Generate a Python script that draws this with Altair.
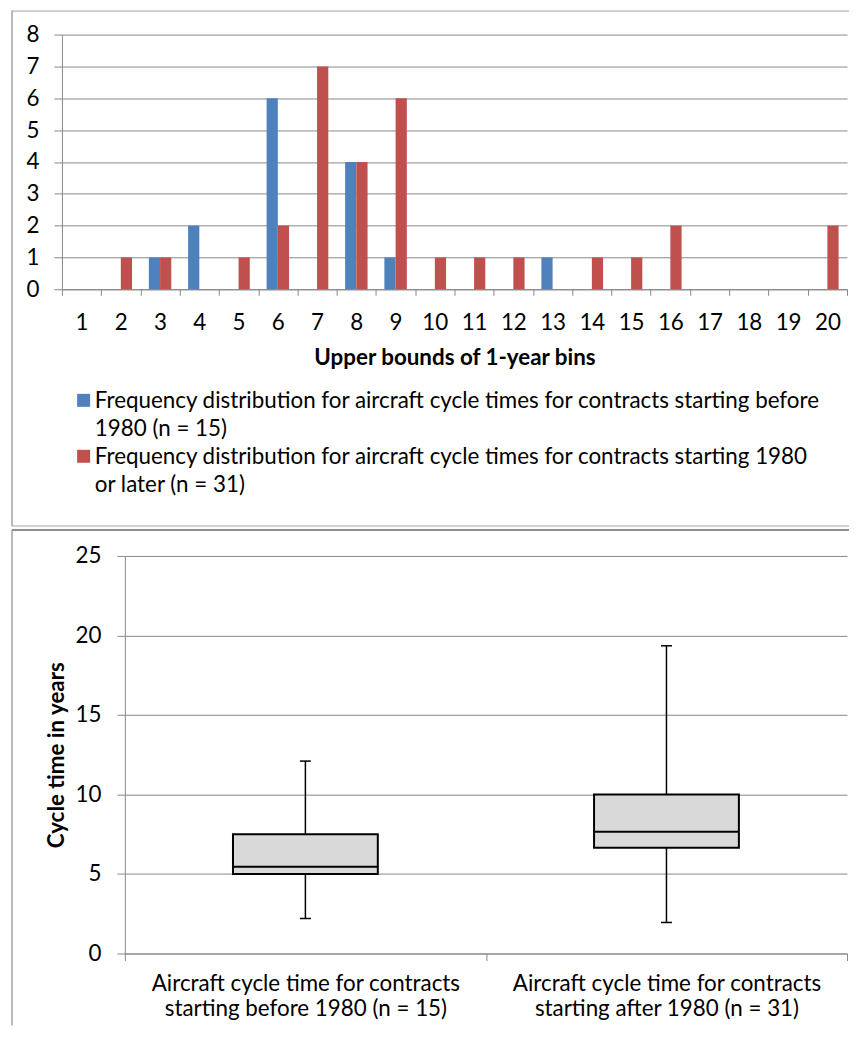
import altair as alt
import pandas as pd

# ---------------- data ----------------
bin_labels = ["1", "2", "3", "4", "5", "6", "7", "8", "9", "10",
              "11", "12", "13", "14", "15", "16", "17", "18", "19", "20"]
before_counts = [0, 0, 1, 2, 0, 6, 0, 4, 1, 0, 0, 0, 1, 0, 0, 0, 0, 0, 0, 0]
after_counts = [0, 1, 1, 0, 1, 2, 7, 4, 6, 1, 1, 1, 0, 1, 1, 2, 0, 0, 0, 2]
series_names = [
    "Frequency distribution for aircraft cycle times for contracts starting before|1980 (n = 15)",
    "Frequency distribution for aircraft cycle times for contracts starting 1980|or later (n = 31)",
]
series_colors = ["#4F81BD", "#C0504D"]
top_y_ticks = [0, 1, 2, 3, 4, 5, 6, 7, 8]
top_x_title = "Upper bounds of 1-year bins"

box_groups = [
    "Aircraft cycle time for contracts|starting before 1980 (n = 15)",
    "Aircraft cycle time for contracts|starting after 1980 (n = 31)",
]
box_min = [2.2, 1.95]
box_q1 = [5.0, 6.65]
box_median = [5.45, 7.65]
box_q3 = [7.5, 10.0]
box_max = [12.1, 19.35]
bottom_y_ticks = [0, 5, 10, 15, 20, 25]
bottom_y_title = "Cycle time in years"

# ---------------- style ----------------
FONT = "Lato"
FS = 22.4
LEGEND_LH = 27.5
AXIS_LH = 24.6
GRID = "#898989"
FRAME = "#a3a3a3"

W, H1, H2 = 786, 255, 398
BOX_X0 = 63  # bottom panel's plot starts 63px right of the top panel's
legend_y = [345, 401]

one = pd.DataFrame({"k": [0]})

# ---------------- top panel: histogram ----------------
x_top = alt.X(
    "bin:N", sort=bin_labels,
    scale=alt.Scale(paddingInner=0, paddingOuter=0),
    axis=alt.Axis(
        title=top_x_title, tickBand="extent", labelAngle=0, tickSize=6,
        labelPadding=16, grid=False, titleX=W / 2, titleY=68,
        titleBaseline="middle", titleAlign="center",
    ),
)
xoff_top = alt.XOffset("series:N",
                       scale=alt.Scale(domain=series_names, paddingInner=0, paddingOuter=0.75))
y_top = alt.Y(
    "count:Q", scale=alt.Scale(domain=[0, 8], nice=False),
    axis=alt.Axis(values=top_y_ticks, title=None, tickSize=8, labelPadding=15),
)

bar_layers = []
for name, counts, colour, ly in zip(series_names, [before_counts, after_counts],
                                    series_colors, legend_y):
    df = pd.DataFrame({"bin": bin_labels, "series": [name] * len(bin_labels), "count": counts})
    bar_layers.append(
        alt.Chart(df).mark_bar().encode(
            x=x_top, xOffset=xoff_top, y=y_top,
            color=alt.Color(
                "series:N",
                scale=alt.Scale(domain=[name], range=[colour]),
                legend=alt.Legend(
                    title=None, orient="none", legendX=10.5, legendY=ly,
                    direction="vertical",
                    labelExpr="split(datum.label, '|')", labelBaseline="top",
                    symbolType="M-1,0.54H1V2.54H-1Z", symbolSize=169, symbolStrokeWidth=0,
                    labelOffset=0, padding=0, labelLimit=900,
                ),
            ),
        )
    )

top_left = alt.Chart(one).mark_rule(color=FRAME, strokeWidth=1.5).encode(
    x=alt.value(-50), y=alt.value(-24), y2=alt.value(492))
top_top = alt.Chart(one).mark_rule(color=FRAME, strokeWidth=1).encode(
    x=alt.value(-50), x2=alt.value(788), y=alt.value(-23.5))
top_bottom = alt.Chart(one).mark_rule(color=FRAME, strokeWidth=1).encode(
    x=alt.value(-50), x2=alt.value(788), y=alt.value(492))

top = (
    alt.layer(*bar_layers, top_left, top_top, top_bottom)
    .resolve_scale(color="independent")
    .properties(width=W, height=H1)
)

# ---------------- bottom panel: box plot ----------------
box_df = pd.DataFrame({
    "group": box_groups, "min": box_min, "q1": box_q1,
    "median": box_median, "q3": box_q3, "max": box_max,
})

xb = alt.X(
    "group:N", sort=box_groups,
    scale=alt.Scale(range=[BOX_X0, W], paddingInner=0, paddingOuter=0),
    axis=alt.Axis(
        title=None, tickBand="extent", labelAngle=0,
        labelExpr="split(datum.label, '|')", labelLineHeight=AXIS_LH,
        tickSize=7, labelPadding=12, labelLimit=500,
    ),
)


def yb(field):
    return alt.Y(
        f"{field}:Q", title=bottom_y_title,
        scale=alt.Scale(domain=[0, 25], nice=False),
        axis=alt.Axis(
            values=bottom_y_ticks, title=bottom_y_title, tickSize=8, labelPadding=16,
            offset=-BOX_X0, titleX=-68, titleY=H2 / 2, titleBaseline="middle",
            titleAlign="center", titleAngle=270,
        ),
    )


base = alt.Chart(box_df)
whisker = base.mark_rule(color="black", strokeWidth=1.5, opacity=1).encode(
    x=xb, y=yb("min"), y2="max:Q")
box = base.mark_bar(size=145, fill="#D9D9D9", stroke="black", strokeWidth=2, opacity=1).encode(
    x=xb, y=yb("q1"), y2="q3:Q")
median = base.mark_tick(color="black", thickness=2, size=145, opacity=1).encode(
    x=xb, y=yb("median"))
cap_lo = base.mark_tick(color="black", thickness=1.5, size=11, opacity=1).encode(
    x=xb, y=yb("min"))
cap_hi = base.mark_tick(color="black", thickness=1.5, size=11, opacity=1).encode(
    x=xb, y=yb("max"))

bot_left = alt.Chart(one).mark_rule(color=FRAME, strokeWidth=1.5).encode(
    x=alt.value(-50), y=alt.value(-26), y2=alt.value(470))
bot_top = alt.Chart(one).mark_rule(color="#8f8f8f", strokeWidth=2).encode(
    x=alt.value(-50), x2=alt.value(788), y=alt.value(-26))

bottom = alt.layer(whisker, box, median, cap_lo, cap_hi, bot_left, bot_top).properties(
    width=W, height=H2)

chart = (
    alt.vconcat(top, bottom, spacing=0)
    .properties(padding={"left": 2, "top": 0, "right": 0, "bottom": 0})
    .configure(style={"guide-label": {"lineHeight": LEGEND_LH}})
    .configure_view(stroke="transparent")
    .configure_axis(
        labelFont=FONT, labelFontSize=FS, labelColor="black",
        titleFont=FONT, titleFontSize=FS, titleFontWeight="bold", titleColor="black",
        gridColor=GRID, domainColor=GRID, tickColor=GRID, gridWidth=1,
    )
    .configure_legend(labelFont=FONT, labelFontSize=FS, labelColor="black")
)

chart.save("out.html", embed_options={"renderer": "svg", "actions": False})
